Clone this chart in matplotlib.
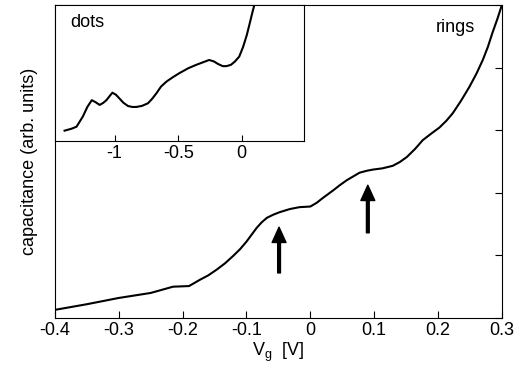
import matplotlib
matplotlib.use("Agg")
import matplotlib.pyplot as plt

plt.rcParams['font.family'] = ['Liberation Sans', 'DejaVu Sans']
plt.rcParams['font.size'] = 13

# main curve (rings)
vg = [-0.4, -0.35, -0.3, -0.25, -0.215, -0.19, -0.173, -0.16, -0.147, -0.134, -0.121,
      -0.11, -0.1, -0.092, -0.084, -0.076, -0.068, -0.058, -0.048, -0.032, -0.017, 0.0,
      0.01, 0.02, 0.036, 0.046, 0.057, 0.067, 0.077, 0.088, 0.098, 0.113, 0.129, 0.14,
      0.151, 0.164, 0.176, 0.19, 0.202, 0.213, 0.223, 0.236, 0.249, 0.26, 0.27, 0.278,
      0.285, 0.293, 0.3]
cap = [0.13, 0.22, 0.32, 0.40, 0.50, 0.51, 0.61, 0.68, 0.77, 0.87, 0.99,
       1.10, 1.22, 1.33, 1.44, 1.53, 1.60, 1.65, 1.69, 1.74, 1.77, 1.78,
       1.84, 1.92, 2.04, 2.12, 2.20, 2.26, 2.32, 2.35, 2.37, 2.39, 2.43, 2.49,
       2.57, 2.70, 2.84, 2.95, 3.04, 3.15, 3.27, 3.47, 3.69, 3.90, 4.12, 4.33,
       4.55, 4.78, 5.0]

# inset curve (dots)
vg_dots = [-1.394, -1.34, -1.30, -1.25, -1.215, -1.18, -1.15, -1.118, -1.09, -1.065,
           -1.018, -0.99, -0.96, -0.93, -0.895, -0.86, -0.83, -0.785, -0.738, -0.705,
           -0.672, -0.635, -0.593, -0.54, -0.488, -0.42, -0.357, -0.30, -0.257, -0.22,
           -0.187, -0.15, -0.12, -0.085, -0.055, -0.02, 0.01, 0.04, 0.063, 0.085, 0.102]
cap_dots = [0.076, 0.09, 0.105, 0.18, 0.25, 0.30, 0.285, 0.265, 0.28, 0.30,
            0.355, 0.34, 0.31, 0.28, 0.257, 0.25, 0.25, 0.258, 0.277, 0.31,
            0.35, 0.40, 0.436, 0.47, 0.50, 0.535, 0.56, 0.58, 0.595, 0.585,
            0.566, 0.55, 0.55, 0.56, 0.583, 0.62, 0.69, 0.78, 0.866, 0.95, 1.01]

xticks_main = [-0.4, -0.3, -0.2, -0.1, 0, 0.1, 0.2, 0.3]
xtick_labels_main = ['-0.4', '-0.3', '-0.2', '-0.1', '0', '0.1', '0.2', '0.3']
xticks_dots = [-1, -0.5, 0]
xtick_labels_dots = ['-1', '-0.5', '0']

# arrows: (x, tail, tip)
arrows = [(-0.049, 0.72, 1.45), (0.09, 1.36, 2.12)]

fig = plt.figure(figsize=(5.18, 3.75), dpi=100)
ax = fig.add_axes([0.106, 0.152, 0.863, 0.835])
ax.plot(vg, cap, color='black', lw=1.5)
ax.set_xlim(-0.4, 0.3)
ax.set_ylim(0, 5)
ax.set_xticks(xticks_main)
ax.set_xticklabels(xtick_labels_main)
ax.set_yticks([0, 1, 2, 3, 4, 5])
ax.tick_params(axis='x', direction='in', length=5, top=False, pad=3)
ax.tick_params(axis='y', direction='in', length=5, left=False, right=True,
               labelleft=False, labelright=False)
ax.set_xlabel('V$_\\mathregular{g}$  [V]', labelpad=1)
ax.set_ylabel('capacitance (arb. units)', labelpad=12)
ax.text(0.94, 0.955, 'rings', transform=ax.transAxes, ha='right', va='top')

for x, tail, tip in arrows:
    ax.annotate('', xy=(x, tip), xytext=(x, tail),
                arrowprops=dict(facecolor='black', edgecolor='black', width=2,
                                headwidth=10, headlength=11, shrink=0))

ins = fig.add_axes([0.106, 0.624, 0.481, 0.363])
ins.plot(vg_dots, cap_dots, color='black', lw=1.5)
ins.set_xlim(-1.47, 0.49)
ins.set_ylim(0, 1)
ins.set_xticks(xticks_dots)
ins.set_xticklabels(xtick_labels_dots)
ins.set_yticks([])
ins.tick_params(axis='x', direction='in', length=4, pad=3)
ins.text(0.06, 0.93, 'dots', transform=ins.transAxes, ha='left', va='top')

fig.savefig('out.png', dpi=100)
